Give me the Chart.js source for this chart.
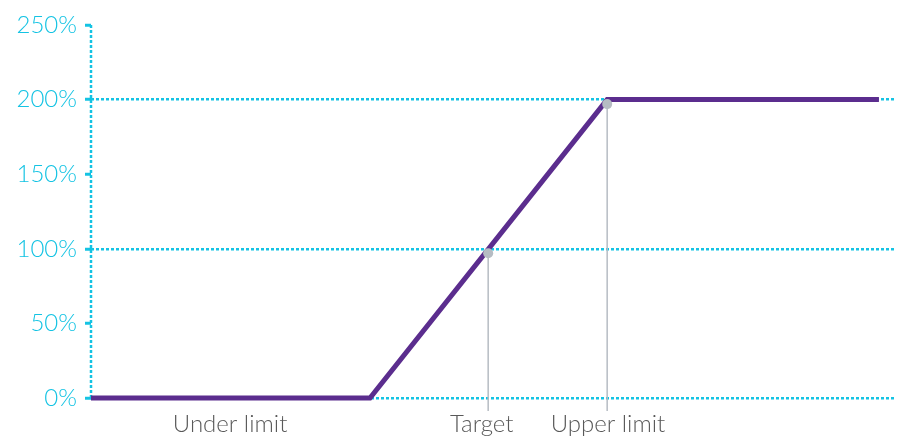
<!doctype html>
<html>

<head>
	<title>Payout curve</title>
	<script src="https://cdn.jsdelivr.net/npm/chart.js@4/dist/chart.umd.min.js"></script>
	<style>
	body {
		margin: 0;
		background: #fff;
	}
	#wrap {
		width: 903px;
		height: 446px;
	}
	</style>
</head>

<body>
	<div id="wrap">
		<canvas id="canvas"></canvas>
	</div>
	<script>
		// payout curve: flat at 0% up to the under limit, linear to 200% at the upper limit
		const curveX = [0, 34.7, 64.2, 98];
		const curveY = [0, 0, 200, 200];

		// target / upper limit markers
		const markerX = [49.4, 64.2];
		const markerY = [100, 200];

		// x axis labels and where they sit
		const xLabels = ['Under limit', 'Target', 'Upper limit'];
		const xLabelPos = [17.3, 48.6, 64.3];

		// y axis
		const yTicks = [0, 50, 100, 150, 200, 250];
		const yGridShown = [0, 100, 200];

		const CYAN = '#14c3e3';
		const PURPLE = '#5b2d8e';
		const MARKER = '#b6bcc3';
		const DOTS = [3, 2];

		const guides = {
			id: 'guides',
			beforeDatasetsDraw(chart) {
				const {ctx, chartArea, scales: {y}} = chart;
				ctx.save();
				ctx.strokeStyle = CYAN;
				ctx.lineWidth = 2.5;
				ctx.setLineDash(DOTS);
				ctx.beginPath();
				ctx.moveTo(chartArea.left, y.getPixelForValue(250));
				ctx.lineTo(chartArea.left, y.getPixelForValue(0));
				ctx.stroke();
				ctx.restore();
			},
			afterDatasetsDraw(chart) {
				const {ctx, scales: {x, y}} = chart;
				const base = y.getPixelForValue(0) + 13;
				ctx.save();
				markerX.forEach((mx, i) => {
					const px = x.getPixelForValue(mx);
					const py = y.getPixelForValue(markerY[i]) + 4.5;
					ctx.strokeStyle = MARKER;
					ctx.lineWidth = 1.5;
					ctx.beginPath();
					ctx.moveTo(px, py);
					ctx.lineTo(px, base);
					ctx.stroke();
					ctx.fillStyle = MARKER;
					ctx.beginPath();
					ctx.arc(px, py, 5, 0, Math.PI * 2);
					ctx.fill();
				});
				ctx.restore();
			}
		};

		window.onload = function() {
			const ctx = document.getElementById('canvas').getContext('2d');
			window.myChart = new Chart(ctx, {
				type: 'line',
				data: {
					datasets: [{
						data: curveX.map((v, i) => ({x: v, y: curveY[i]})),
						borderColor: PURPLE,
						borderWidth: 5,
						pointRadius: 0,
						tension: 0,
						clip: 6
					}]
				},
				options: {
					responsive: true,
					maintainAspectRatio: false,
					animation: false,
					layout: {
						padding: {top: 25, right: 8, left: 0, bottom: 0}
					},
					plugins: {
						legend: {display: false},
						tooltip: {enabled: false}
					},
					scales: {
						x: {
							type: 'linear',
							min: 0,
							max: 100,
							afterBuildTicks(scale) {
								scale.ticks = xLabelPos.map(v => ({value: v}));
							},
							afterFit(scale) {
								scale.height = 48;
							},
							grid: {display: false, drawTicks: false},
							border: {display: false},
							ticks: {
								autoSkip: false,
								maxRotation: 0,
								padding: 12,
								color: '#595959',
								font: {family: 'Lato', size: 24, weight: '300'},
								callback: (value, index) => xLabels[index]
							}
						},
						y: {
							min: 0,
							max: 250,
							afterBuildTicks(scale) {
								scale.ticks = yTicks.map(v => ({value: v}));
							},
							afterFit(scale) {
								scale.width = 91;
							},
							grid: {
								lineWidth: 2.5,
								color: (c) => yGridShown.includes(c.tick && c.tick.value) ? CYAN : 'transparent',
								tickColor: CYAN,
								tickLength: 6,
								tickWidth: 3,
								tickBorderDash: []
							},
							border: {display: false, dash: DOTS},
							ticks: {
								padding: 8,
								color: CYAN,
								font: {family: 'Lato', size: 24, weight: '300'},
								callback: (value) => value + '%'
							}
						}
					}
				},
				plugins: [guides]
			});
		};
	</script>
</body>

</html>
